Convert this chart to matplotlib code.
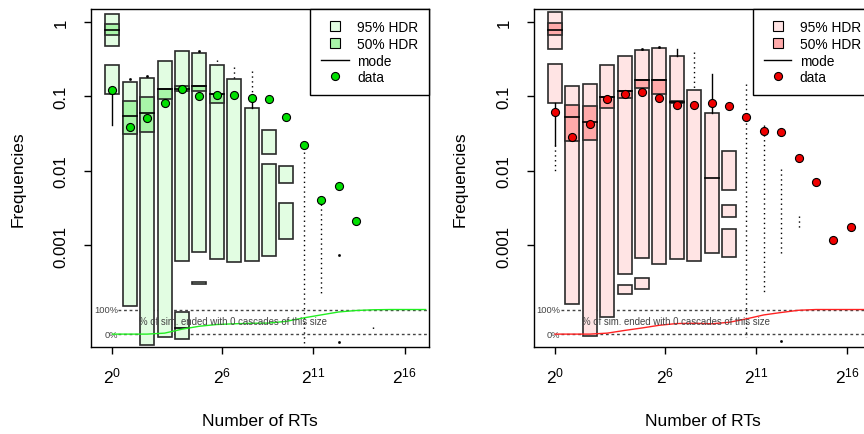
import matplotlib
matplotlib.use('Agg')
import matplotlib.pyplot as plt
from matplotlib.patches import Rectangle
from matplotlib.lines import Line2D

plt.rcParams['font.family'] = ['Liberation Sans', 'DejaVu Sans']
plt.rcParams['mathtext.fontset'] = 'custom'
plt.rcParams['mathtext.rm'] = 'Liberation Sans'
plt.rcParams['mathtext.it'] = 'Liberation Sans:italic'

# bin centres on the log2 axis (number of RTs)
bins_log2 = [0, 0.95, 1.9, 2.86, 3.81, 4.76, 5.71, 6.66, 7.62, 8.57,
             9.52, 10.47, 11.42, 12.38, 13.33, 14.28, 15.23, 16.18, 17.14]

# ---- green panel ----
g_hdr95 = [[(0.47, 1.29), (0.109, 0.265)], [(1.54e-4, 0.155)], [(4.6e-5, 0.177)],
           [(5.9e-5, 0.30)], [(6.2e-4, 0.404), (5.6e-5, 1.26e-4)],
           [(8.1e-4, 0.388), (3.05e-4, 3.25e-4)], [(6.5e-4, 0.265)], [(6.0e-4, 0.170)],
           [(6.1e-4, 0.0703)], [(0.017, 0.036), (7.3e-4, 0.0123)],
           [(0.00686, 0.0115), (0.00123, 0.0037)]]
g_hdr50 = [[(0.66, 0.95)], [(0.0315, 0.0863)], [(0.0331, 0.0977)], [(0.0927, 0.125)],
           [(0.1175, 0.137)], [(0.1175, 0.137)], [(0.0828, 0.107)]]
g_mode = [[0.79], [0.0543], [0.0596], [0.125], [0.126, 7.8e-5], [0.137], [0.107]]
g_data = [0.121, 0.0391, 0.0516, 0.082, 0.125, 0.102, 0.104, 0.104, 0.0947, 0.0927,
          0.0532, 0.0226, 0.0041, 0.0062, 0.0021]
g_whisk = [(0, 0.109, 0.041), (8, 0.0703, 0.0947)]
g_tail = [(1, 0.17, 0.17), (2, 0.187, 0.187), (5, 0.41, 0.41), (6, 0.31, 0.265),
          (7, 0.247, 0.170), (8, 0.223, 0.114), (11, 0.0179, 4.4e-5), (12, 0.0036, 2.3e-4),
          (13, 7.5e-4, 7.5e-4), (13, 5e-5, 5e-5), (15, 8.0e-5, 7.0e-5)]
g_zero = [0, 0, 0, 0.04, 0.2, 0.32, 0.39, 0.42, 0.44, 0.45, 0.52, 0.66, 0.78, 0.9,
          0.96, 0.99, 1, 1, 1]

# ---- red panel ----
r_hdr95 = [[(0.439, 1.38), (0.081, 0.276)], [(1.62e-4, 0.14)], [(6.1e-5, 0.1475)],
           [(1.08e-4, 0.262)], [(4.17e-4, 0.35), (2.25e-4, 2.95e-4)],
           [(6.7e-4, 0.42), (2.57e-4, 3.65e-4)], [(5.6e-4, 0.453)], [(6.6e-4, 0.354)],
           [(6.2e-4, 0.124)], [(7.9e-4, 0.0596)],
           [(0.0055, 0.0186), (0.00243, 0.00344), (7.0e-4, 0.00168)]]
r_hdr50 = [[(0.66, 0.96)], [(0.0254, 0.0779)], [(0.0262, 0.074)], [(0.0695, 0.0977)],
           [(0.0947, 0.12)], [(0.130, 0.167)], [(0.109, 0.167)], [(0.081, 0.0872)]]
r_mode = [[0.79], [0.0527], [0.045], [0.0977], [0.12], [0.167], [0.167], [0.085],
          [], [0.0081]]
r_data = [0.0627, 0.0284, 0.0425, 0.0927, 0.107, 0.115, 0.0947, 0.077, 0.077, 0.0828,
          0.0747, 0.0537, 0.0342, 0.0337, 0.0149, 0.00715, 0.00119, 0.00178]
r_whisk = [(0, 0.081, 0.022), (7, 0.354, 0.44), (9, 0.0596, 0.2)]
r_tail = [(0, 0.022, 0.009), (5, 0.435, 0.435), (6, 0.46, 0.46), (8, 0.39, 0.124),
          (11, 0.148, 5.9e-5), (12, 0.041, 2.3e-4), (13, 0.0107, 7.4e-4),
          (13, 5.2e-5, 5.2e-5), (14, 0.0025, 0.0017)]
r_zero = [0, 0, 0, 0.04, 0.15, 0.25, 0.36, 0.43, 0.44, 0.42, 0.48, 0.62, 0.78, 0.88,
          0.97, 1, 1, 1, 1]

HALF = 0.383          # half box width in log2 units
ZERO_LO, ZERO_HI = -4.19, -3.86   # log10 positions of the 0% / 100% guide lines


def pct_to_y(p):
    return 10 ** (ZERO_LO + p * (ZERO_HI - ZERO_LO))


def draw_panel(ax, hdr95, hdr50, modes, data, whisk, tail, zero, c95, c50, cpt, cline):
    for i, segs in enumerate(hdr95):
        c = bins_log2[i]
        for lo, hi in segs:
            ax.add_patch(Rectangle((2 ** (c - HALF), lo), 2 ** (c + HALF) - 2 ** (c - HALF),
                                   hi - lo, facecolor=c95, edgecolor='#2a2a2a', lw=1.2, zorder=2))
    for i, segs in enumerate(hdr50):
        c = bins_log2[i]
        for lo, hi in segs:
            ax.add_patch(Rectangle((2 ** (c - HALF), lo), 2 ** (c + HALF) - 2 ** (c - HALF),
                                   hi - lo, facecolor=c50, edgecolor='#2a2a2a', lw=1.2, zorder=3))
    for i, ms in enumerate(modes):
        c = bins_log2[i]
        for m in ms:
            ax.plot([2 ** (c - HALF), 2 ** (c + HALF)], [m, m], color='black', lw=1.2, zorder=4)
    for b, a, z in whisk:
        ax.plot([2 ** bins_log2[b]] * 2, [a, z], color='black', lw=1, zorder=4)
    for b, a, z in tail:
        x = 2 ** bins_log2[b]
        if a == z:
            ax.plot([x], [a], marker='s', ms=0.9, color='black', ls='none', zorder=4)
        else:
            ax.plot([x, x], [a, z], color='black', lw=1, ls=(0, (1, 2.5)), zorder=4)

    # % of simulations with no cascades of this size
    ax.plot([2 ** 0.3, 2 ** 18], [pct_to_y(1)] * 2, color='#444444', lw=1, ls=(0, (2, 2)), zorder=1)
    ax.plot([2 ** 0.3, 2 ** 18], [pct_to_y(0)] * 2, color='#444444', lw=1, ls=(0, (2, 2)), zorder=1)
    zx = [2 ** bins_log2[i] for i in range(len(zero))]
    ax.plot(zx, [pct_to_y(p) for p in zero], color=cline, lw=1, zorder=5)
    ax.text(2 ** 0.3, pct_to_y(1), '100%', ha='right', va='center', fontsize=6.7, color='#444444')
    ax.text(2 ** 0.3, pct_to_y(0), '0%', ha='right', va='center', fontsize=6.7, color='#444444')
    ax.text(2 ** 6.6, pct_to_y(0.55), '% of sim. ended with 0 cascades of this size',
            ha='center', va='center', fontsize=6.9, color='#444444', zorder=6)

    dx = [2 ** bins_log2[i] for i in range(len(data))]
    ax.plot(dx, data, 'o', ms=5.8, mfc=cpt, mec='black', mew=0.8, zorder=7)

    ax.set_xscale('log', base=2)
    ax.set_yscale('log')
    ax.set_xlim(2 ** -1.17, 2 ** 17.33)
    ax.set_ylim(10 ** -4.363, 10 ** 0.174)
    ax.set_xticks([2 ** 0, 2 ** 6, 2 ** 11, 2 ** 16])
    ax.set_xticklabels([r'$\mathregular{2^{0}}$', r'$\mathregular{2^{6}}$',
                        r'$\mathregular{2^{11}}$', r'$\mathregular{2^{16}}$'])
    ax.set_yticks([1, 0.1, 0.01, 0.001])
    ax.set_yticklabels(['1', '0.1', '0.01', '0.001'])
    ax.minorticks_off()
    ax.tick_params(axis='both', direction='out', length=5, width=1)
    ax.tick_params(axis='y', labelrotation=90, pad=11, labelsize=12.2)
    ax.tick_params(axis='x', pad=8, labelsize=12.5)
    for lab in ax.get_yticklabels():
        lab.set_va('center')
    for s in ax.spines.values():
        s.set_linewidth(1)
        s.set_color('black')

    handles = [
        Line2D([], [], marker='s', ls='none', ms=7, mfc=c95, mec='black', mew=0.8, label='95% HDR'),
        Line2D([], [], marker='s', ls='none', ms=7, mfc=c50, mec='black', mew=0.8, label='50% HDR'),
        Line2D([], [], color='black', lw=1, label='mode'),
        Line2D([], [], marker='o', ls='none', ms=5.8, mfc=cpt, mec='black', mew=0.8, label='data'),
    ]
    leg = ax.legend(handles=handles, loc='upper right', bbox_to_anchor=(1, 1), borderaxespad=0,
                    fontsize=9.9, fancybox=False, edgecolor='black', framealpha=1,
                    handlelength=2.0, handletextpad=0.6, labelspacing=0.2, borderpad=0.8)
    leg.get_frame().set_linewidth(1)
    leg.set_zorder(10)


fig = plt.figure(figsize=(8.64, 4.35), dpi=100)
ax1 = fig.add_axes([91 / 864, 0.2, 338 / 864, 338 / 435])
ax2 = fig.add_axes([533.7 / 864, 0.2, 338 / 864, 338 / 435])

draw_panel(ax1, g_hdr95, g_hdr50, g_mode, g_data, g_whisk, g_tail, g_zero,
           '#e2fde2', '#a8f5a8', '#00e000', '#22ee22')
draw_panel(ax2, r_hdr95, r_hdr50, r_mode, r_data, r_whisk, r_tail, r_zero,
           '#ffe4e4', '#ffaaaa', '#f00000', '#ff2222')

for x in [18 / 864, 460.3 / 864]:
    fig.text(x, 0.5885, 'Frequencies', rotation=90, ha='center', va='center', fontsize=12.5)
for x in [260 / 864, 702.7 / 864]:
    fig.text(x, 0.0306, 'Number of RTs', ha='center', va='center', fontsize=12.5)

fig.savefig('out.png', dpi=100)
